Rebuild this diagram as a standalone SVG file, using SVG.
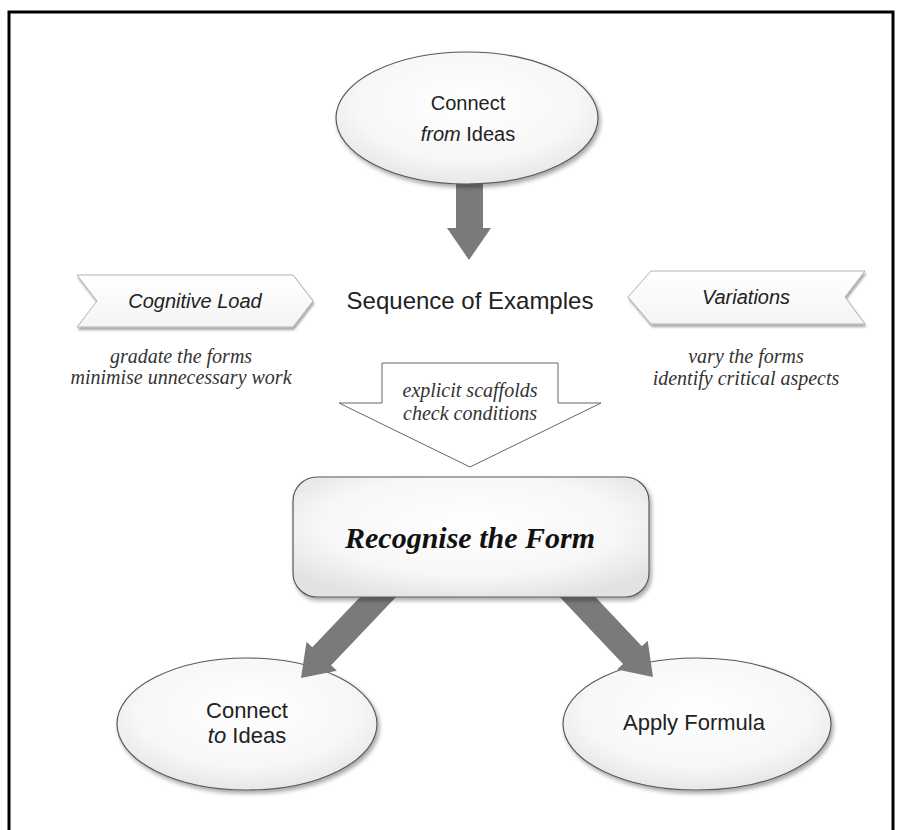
<svg xmlns="http://www.w3.org/2000/svg" width="900" height="830" viewBox="0 0 900 830">
<defs>
<radialGradient id="nodeFill" cx="0.5" cy="0.4" r="0.65">
<stop offset="0" stop-color="#ffffff"/>
<stop offset="0.65" stop-color="#f7f7f7"/>
<stop offset="1" stop-color="#e2e2e2"/>
</radialGradient>
<linearGradient id="bannerFill" x1="0" y1="0" x2="0" y2="1">
<stop offset="0" stop-color="#ffffff"/>
<stop offset="1" stop-color="#f4f4f4"/>
</linearGradient>
<filter id="shadow" x="-10%" y="-10%" width="125%" height="130%">
<feDropShadow dx="2" dy="3" stdDeviation="2" flood-color="#000" flood-opacity="0.35"/>
</filter>
<filter id="bshadow" x="-5%" y="-10%" width="110%" height="130%">
<feDropShadow dx="1" dy="2.5" stdDeviation="1" flood-color="#000" flood-opacity="0.35"/>
</filter>
</defs>
<style>
.node{fill:url(#nodeFill);stroke:#5a5a5a;stroke-width:1.2;filter:url(#shadow)}
.banner{fill:url(#bannerFill);stroke:#b0b0b0;stroke-width:1;filter:url(#bshadow)}
.sans{font-family:"Liberation Sans",Arial,sans-serif;fill:#222;text-anchor:middle}
.serif{font-family:"Liberation Serif","Times New Roman",serif;font-style:italic;fill:#333;text-anchor:middle}
.arrow{fill:#7a7a7a}
.hollow{fill:#ffffff;stroke:#666;stroke-width:1}
</style>
<rect x="9" y="12" width="884" height="840" fill="none" stroke="#000" stroke-width="3"/>

<g id="node-connect-to">
<ellipse class="node" cx="247" cy="724" rx="130" ry="66"/>
<text class="sans" x="247" y="718" font-size="22">Connect</text>
<text class="sans" x="247" y="743" font-size="22"><tspan font-style="italic">to</tspan> Ideas</text>
</g>
<g id="node-apply">
<ellipse class="node" cx="697" cy="724" rx="134" ry="66"/>
<text class="sans" x="694" y="730" font-size="22">Apply Formula</text>
</g>

<g id="connectors">
<polygon class="arrow" points="456,180 483,180 483,228 491,228 469,260 447,228 456,228"/>
<polygon class="arrow" points="360.1,597 312.3,647.3 306.5,641.8 301,678 336.9,670.8 331.1,665.3 396,597"/>
<polygon class="arrow" points="595.4,597 641.9,646.3 647.7,640.8 653,677 617.1,669.6 623,664.1 559.7,597"/>
</g>

<g id="node-connect-from">
<ellipse class="node" cx="467" cy="118" rx="131" ry="66"/>
<text class="sans" x="468" y="110" font-size="20">Connect</text>
<text class="sans" x="468" y="141" font-size="20"><tspan font-style="italic">from</tspan> Ideas</text>
</g>

<g id="node-sequence">
<text class="sans" x="470" y="309" font-size="24">Sequence of Examples</text>
</g>

<g id="node-cognitive">
<polygon class="banner" points="77,275 293,275 313,301 293,327 77,327 97,301"/>
<text class="sans" x="195" y="308" font-size="20" font-style="italic" fill="#333">Cognitive Load</text>
<text class="serif" x="181" y="363" font-size="20">gradate the forms</text>
<text class="serif" x="181" y="384" font-size="20">minimise unnecessary work</text>
</g>

<g id="node-variations">
<polygon class="banner" points="628,297 651,271 865,271 845,297 865,324 651,324"/>
<text class="sans" x="746" y="304" font-size="20" font-style="italic" fill="#333">Variations</text>
<text class="serif" x="746" y="363" font-size="20">vary the forms</text>
<text class="serif" x="746" y="385" font-size="20">identify critical aspects</text>
</g>

<g id="node-scaffolds">
<polygon class="hollow" points="382,363 558,363 558,403 601,403 470,467 339,403 382,403"/>
<text class="serif" x="470" y="397" font-size="20">explicit scaffolds</text>
<text class="serif" x="470" y="420" font-size="20">check conditions</text>
</g>

<g id="node-recognise">
<rect class="node" x="293" y="477" width="356" height="120" rx="24"/>
<text x="470" y="548" font-family="Liberation Serif, Times New Roman, serif" font-style="italic" font-weight="bold" font-size="30" fill="#111" text-anchor="middle">Recognise the Form</text>
</g>
</svg>
